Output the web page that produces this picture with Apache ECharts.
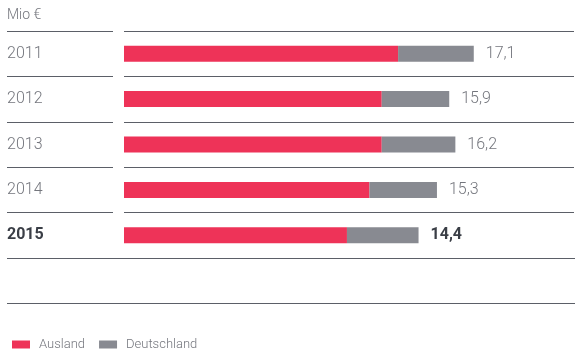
<!DOCTYPE html>
<html>
<head>
<meta charset="utf-8">
<script src="https://cdn.jsdelivr.net/npm/echarts@6/dist/echarts.min.js"></script>
<style>
  html, body { margin: 0; padding: 0; background: #fff; }
  #chart { width: 575px; height: 361px; }
</style>
</head>
<body>
<div id="chart"></div>
<script>
  // Mio €
  var years = ['2011', '2012', '2013', '2014', '2015'];
  var ausland = [13.4, 12.6, 12.6, 12.0, 10.9];
  var deutschland = [3.7, 3.3, 3.6, 3.3, 3.5];
  var totals = [17.1, 15.9, 16.2, 15.3, 14.4];

  var red = '#ee3358';
  var grey = '#888a91';
  var lineColor = '#5b5f67';
  var textColor = '#74767d';
  var font = 'Roboto';

  function fmt(v) { return v.toFixed(1).replace('.', ','); }

  var chart = echarts.init(document.getElementById('chart'));
  chart.setOption({
    animation: false,
    title: {
      text: 'Mio €', left: 7, top: 8, padding: 0,
      textStyle: { fontFamily: font, fontWeight: 300, fontSize: 14, color: textColor }
    },
    legend: {
      left: 7, top: 333, itemWidth: 18, itemHeight: 8, itemGap: 14,
      icon: 'rect',
      textStyle: { fontFamily: font, fontWeight: 300, fontSize: 13, color: textColor, padding: [0, 0, 0, 4] },
      data: ['Ausland', 'Deutschland']
    },
    grid: [
      { left: 7, width: 106, top: 31, height: 227 },
      { left: 124, right: 1, top: 31, height: 227 }
    ],
    xAxis: [
      { gridIndex: 0, type: 'value', show: false },
      { gridIndex: 1, type: 'value', min: 0, max: 22, show: false }
    ],
    yAxis: [
      {
        gridIndex: 0, type: 'category', data: years, inverse: true,
        axisLine: { show: false }, axisTick: { show: false }, axisLabel: { show: false },
        splitLine: { show: true, lineStyle: { color: lineColor, width: 1 } }
      },
      {
        gridIndex: 1, type: 'category', data: years, inverse: true,
        axisLine: { show: false }, axisTick: { show: false },
        splitLine: { show: true, lineStyle: { color: lineColor, width: 1 } },
        axisLabel: {
          margin: 117, align: 'left',
          fontFamily: font, fontWeight: 300, fontSize: 16, color: textColor,
          formatter: function (v, i) { return i === years.length - 1 ? '{b|' + v + '}' : v; },
          rich: { b: { fontFamily: font, fontWeight: 'bold', fontSize: 16, color: '#3a3e46' } }
        }
      }
    ],
    graphic: [
      { type: 'line', shape: { x1: 7, y1: 258.5, x2: 575, y2: 258.5 }, style: { stroke: lineColor, lineWidth: 1 } },
      { type: 'line', shape: { x1: 7, y1: 303.5, x2: 575, y2: 303.5 }, style: { stroke: lineColor, lineWidth: 1 } }
    ],
    series: [
      {
        name: 'Ausland', type: 'bar', stack: 'sum', xAxisIndex: 1, yAxisIndex: 1,
        barWidth: 16, itemStyle: { color: red }, data: ausland
      },
      {
        name: 'Deutschland', type: 'bar', stack: 'sum', xAxisIndex: 1, yAxisIndex: 1,
        barWidth: 16, itemStyle: { color: grey }, data: deutschland,
        label: {
          show: true, position: 'right', distance: 12,
          fontFamily: font, fontWeight: 300, fontSize: 16, color: textColor,
          formatter: function (p) {
            var t = fmt(totals[p.dataIndex]);
            return p.dataIndex === years.length - 1 ? '{b|' + t + '}' : t;
          },
          rich: { b: { fontFamily: font, fontWeight: 'bold', fontSize: 16, color: '#3a3e46' } }
        }
      }
    ]
  });
</script>
</body>
</html>
